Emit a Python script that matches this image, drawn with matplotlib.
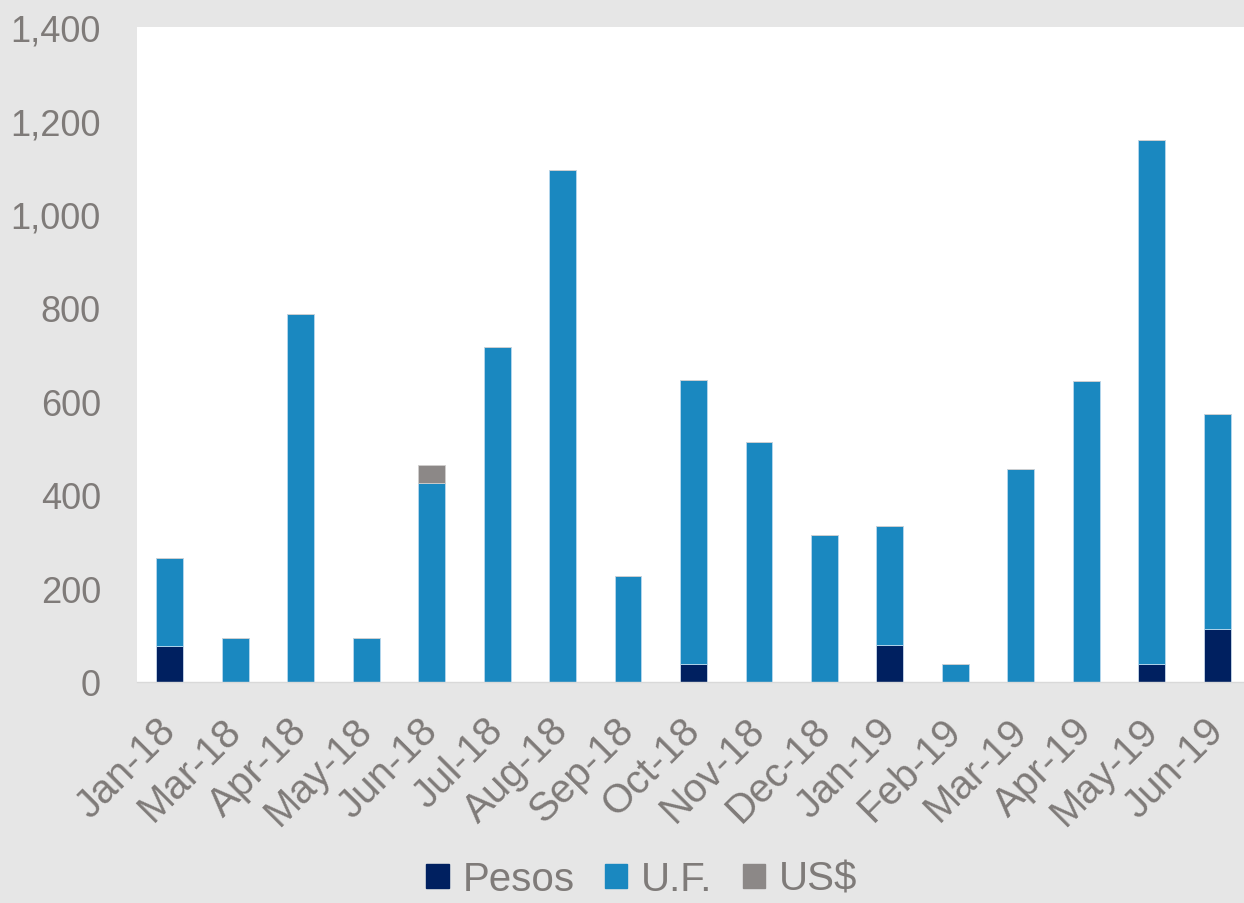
import numpy as np
import matplotlib
matplotlib.use('Agg')
from matplotlib import pyplot as plt
from matplotlib.patches import Patch

plt.rcParams['font.family'] = ['Liberation Sans', 'DejaVu Sans']

#---- data

months = ['Jan-18', 'Mar-18', 'Apr-18', 'May-18', 'Jun-18', 'Jul-18', 'Aug-18',
          'Sep-18', 'Oct-18', 'Nov-18', 'Dec-18', 'Jan-19', 'Feb-19', 'Mar-19',
          'Apr-19', 'May-19', 'Jun-19']
pesos = [77, 0, 0, 0, 0, 0, 0, 0, 39, 0, 0, 79, 0, 0, 0, 39, 114]
uf = [189, 95, 787, 95, 426, 715, 1094, 226, 606, 513, 315, 254, 39, 456,
      643, 1120, 458]
usd = [0, 0, 0, 0, 38, 0, 0, 0, 0, 0, 0, 0, 0, 0, 0, 0, 0]

C_PESOS = '#002060'
C_UF = '#1a88c0'
C_USD = '#8c8887'
C_TXT = '#7f7b79'
C_BG = '#e6e6e6'

#---- figure

fig = plt.figure(figsize=(12.44, 9.04), dpi=100, facecolor=C_BG)
ax = fig.add_axes([137/1244, 1-683/904, (1250-137)/1244, (683-28)/904])
ax.set_facecolor('white')

x = np.arange(len(months))
w = 0.41
pesos = np.array(pesos)
uf = np.array(uf)
usd = np.array(usd)

ax.bar(x, pesos, w, color=C_PESOS, edgecolor='#c9d9ea', linewidth=0.6)
ax.bar(x, uf, w, bottom=pesos, color=C_UF, edgecolor='#b8d8ee', linewidth=0.6)
ax.bar(x, usd, w, bottom=pesos+uf, color=C_USD, edgecolor='#d0cecd', linewidth=0.6)

ax.set_xlim(-0.5, len(months)-0.5)
ax.set_ylim(0, 1400)
ax.set_yticks(np.arange(0, 1401, 200))
ax.set_yticklabels(['{:,}'.format(v) for v in range(0, 1401, 200)])

for s in ['top', 'right', 'left']:
    ax.spines[s].set_visible(False)
ax.spines['bottom'].set_color('#d9d9d9')
ax.spines['bottom'].set_linewidth(1.0)

ax.tick_params(axis='both', length=0, labelcolor=C_TXT)
ax.tick_params(axis='y', pad=26, labelsize=26)
ax.tick_params(axis='x', pad=30, labelsize=29)
ax.set_xticks(x)
ax.set_xticklabels(months, rotation=45, ha='right', va='center',
                   rotation_mode='anchor')

handles = [Patch(color=C_PESOS), Patch(color=C_UF), Patch(color=C_USD)]
fig.legend(handles, ['Pesos', 'U.F.', 'US$'], loc='center',
           bbox_to_anchor=(642/1244, 1-880/904), ncol=3, frameon=False,
           fontsize=29, labelcolor=C_TXT, handlelength=0.55, handleheight=0.55,
           handletextpad=0.35, columnspacing=0.75, borderpad=0.1)

fig.savefig('out.png', dpi=100, facecolor=C_BG)
